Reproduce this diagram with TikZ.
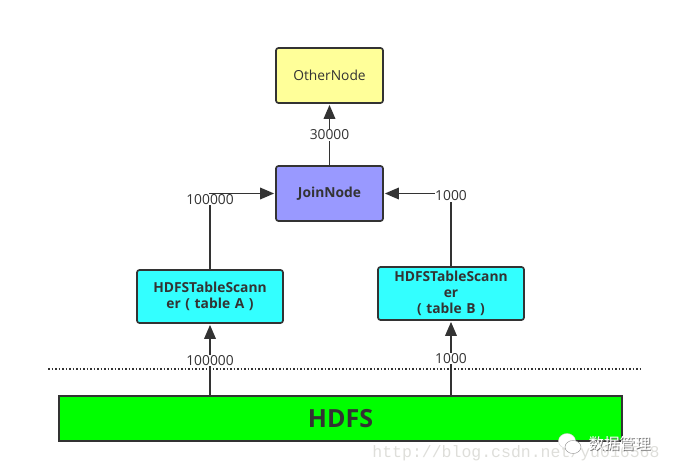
\documentclass[tikz,border=0pt]{standalone}
\usepackage{fontspec}
\setmainfont{Open Sans}
\newfontfamily\cjk{Noto Sans CJK SC}
\newfontfamily\wm{Liberation Mono}
\usetikzlibrary{arrows.meta}
\definecolor{ink}{HTML}{333333}
\definecolor{scancol}{HTML}{33FFFF}
\tikzset{
  box/.style={draw=ink,line width=1.7pt,rounded corners=2.5pt,minimum width=107pt,minimum height=55pt,inner sep=1pt,align=center,text=ink,font=\fontsize{13.8pt}{16pt}\selectfont},
  scan/.style={box,fill=scancol,minimum width=146pt,minimum height=53pt,text width=135pt,font=\fontsize{13.8pt}{16pt}\selectfont\bfseries},
  conn/.style={draw=ink,line width=1.8pt,-{Triangle[length=14pt,width=11.5pt]},shorten >=1pt},
  lab/.style={fill=white,inner sep=0.5pt,text=ink,font=\fontsize{13.8pt}{15pt}\selectfont},
}
\begin{document}
\begin{tikzpicture}[x=1pt,y=-1pt]
\useasboundingbox (0,0) rectangle (673,473);
\node[box,fill={rgb,255:red,255;green,255;blue,153}] (other) at (329.5,75.5) {OtherNode};
\node[box,fill={rgb,255:red,153;green,153;blue,255},font=\fontsize{13.8pt}{16pt}\selectfont\bfseries] (join) at (329.5,193.5) {JoinNode};
\node[scan] (a) at (210,296.5) {HDFSTableScann\\er ( table A )};
\node[scan] (b) at (451,293.5) {HDFSTableScann\\er\\( table B )};
\node[draw=ink,line width=1.7pt,fill={rgb,255:red,0;green,255;blue,0},minimum width=563pt,minimum height=45pt,inner sep=0pt,text=ink,font=\fontsize{25pt}{28pt}\selectfont\bfseries] (hdfs) at (340.5,418.5) {HDFS};
\coordinate (dl) at (48,369);
\coordinate (dr) at (640,369);
\coordinate (ha) at (hdfs.north -| a.south);
\coordinate (hb) at (hdfs.north -| b.south);
\draw[conn] (ha) -- (a.south);
\draw[conn] (hb) -- (b.south);
\draw[conn] (other |- join.north) -- (other.south);
\draw[conn] (a.north) |- (join.west);
\draw[conn] (b.north) |- (join.east);
\node[lab] (l1) at (329.5,135) {30000};
\node[lab] (l2) at (210,199.5) {100000};
\node[lab] (l3) at (451,196) {1000};
\node[lab] (l4) at (210,360.5) {100000};
\node[lab] (l5) at (451,358.5) {1000};
\draw[ink,line width=1.5pt,dash pattern=on 1.5pt off 2pt] (dl) -- (dr);
\node[inner sep=0pt,text={rgb,255:red,222;green,222;blue,218},font=\wm\fontsize{16.5pt}{18pt}\selectfont] (url) at (516,453) {http://blog.csdn.net/yu016568};
\fill[white,draw=black!18,line width=.4pt] (567,441) ellipse (8.5pt and 7.5pt);
\fill[white,draw=black!45,line width=.4pt] (573,447) ellipse (8pt and 6.5pt);
\node[inner sep=0pt,text=black!55,font=\cjk\fontsize{15.5pt}{17pt}\selectfont] (wms) at (620.5,444.5) {数据管理};
\node[inner sep=0pt,text=white,font=\cjk\fontsize{15.5pt}{17pt}\selectfont] (wmt) at (619.5,443.5) {数据管理};
\end{tikzpicture}
\end{document}
